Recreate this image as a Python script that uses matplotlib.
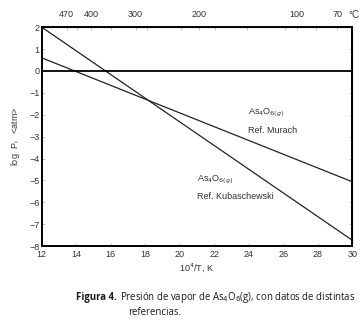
import matplotlib.pyplot as plt
import numpy as np

# log P (atm) vs 10^4/T for As4O6(g), two literature fits (straight lines)
inv_T = [12, 30]
logp_murach = [0.60, -5.06]
logp_kuba = [2.00, -7.73]

# top axis: temperatures in deg C
temp_c_major = [470, 400, 300, 200, 100, 70]
temp_c_minor = [440, 350, 280, 225, 180, 145, 110, 85]

x_ticks = [12, 14, 16, 18, 20, 22, 24, 26, 28, 30]
y_ticks = [-8, -7, -6, -5, -4, -3, -2, -1, 0, 1, 2]


def c_to_inv(tc):
    return 1e4 / (np.asarray(tc, dtype=float) + 273.15)


plt.rcParams['font.family'] = ['Liberation Sans', 'DejaVu Sans']

fig = plt.figure(figsize=(3.62, 3.23), dpi=100)
ax = fig.add_axes([0.115, 0.238, 0.858, 0.678])

ax.plot(inv_T, logp_murach, color='#222222', lw=0.9)
ax.plot(inv_T, logp_kuba, color='#222222', lw=0.9)
ax.axhline(0, color='black', lw=1.3)

ax.set_xlim(12, 30)
ax.set_ylim(-8, 2)
ax.set_xticks(x_ticks)
ax.set_yticks(y_ticks)
ax.tick_params(direction='in', length=2, width=0.5, color='#aaaaaa',
               labelsize=6.5, labelcolor='#333333', pad=1.5)
ax.tick_params(axis='x', pad=2.5)
for s in ax.spines.values():
    s.set_linewidth(1.4)

ax.set_xlabel('10$^4$/T, K', fontsize=6.5, color='#333333', labelpad=2)
ax.set_ylabel('log  P$_{\\rm i}$   <atm>', fontsize=6.5, color='#333333', labelpad=5)

# right side ticks without labels
ay = ax.secondary_yaxis('right')
ay.set_yticks(y_ticks)
ay.tick_params(direction='in', length=2, width=0.5, color='#aaaaaa', labelright=False)

# top axis in Celsius
top = ax.secondary_xaxis('top')
top.set_xticks(c_to_inv(temp_c_major))
top.set_xticklabels([str(t) for t in temp_c_major])
top.set_xticks(c_to_inv(temp_c_minor), minor=True)
top.tick_params(which='both', direction='in', length=2, width=0.5, color='#aaaaaa',
                labelsize=6.5, labelcolor='#333333', pad=6)
fig.text(0.978, 0.955, '°C', fontsize=7, color='#333333', ha='center', va='center')

ax.text(23.95, -1.88, 'As$_4$O$_{6(g)}$', fontsize=6.5, color='#333333', va='center')
ax.text(23.95, -2.72, 'Ref. Murach', fontsize=6.5, color='#333333', va='center')
ax.text(21.0, -4.94, 'As$_4$O$_{6(g)}$', fontsize=6.5, color='#333333', va='center')
ax.text(21.0, -5.74, 'Ref. Kubaschewski', fontsize=6.5, color='#333333', va='center')

# caption: bold label followed by the plain text on the same baseline
cap_font = ['Open Sans', 'DejaVu Sans']
cap_size = 6.9
t1 = fig.text(0.21, 0.071, 'Figura 4.', fontsize=cap_size, fontweight='bold',
              family=cap_font, color='#1a1a1a', va='baseline')
fig.canvas.draw()
bb = t1.get_window_extent(fig.canvas.get_renderer())
x2 = (bb.x1 + 3) / fig.bbox.width
fig.text(x2, 0.071, 'Presión de vapor de As$_4$O$_6$(g), con datos de distintas',
         fontsize=cap_size, family=cap_font, color='#1a1a1a', va='baseline')
fig.text(0.354, 0.025, 'referencias.', fontsize=cap_size, family=cap_font,
         color='#1a1a1a', va='baseline')

fig.savefig('out.png', dpi=100)
